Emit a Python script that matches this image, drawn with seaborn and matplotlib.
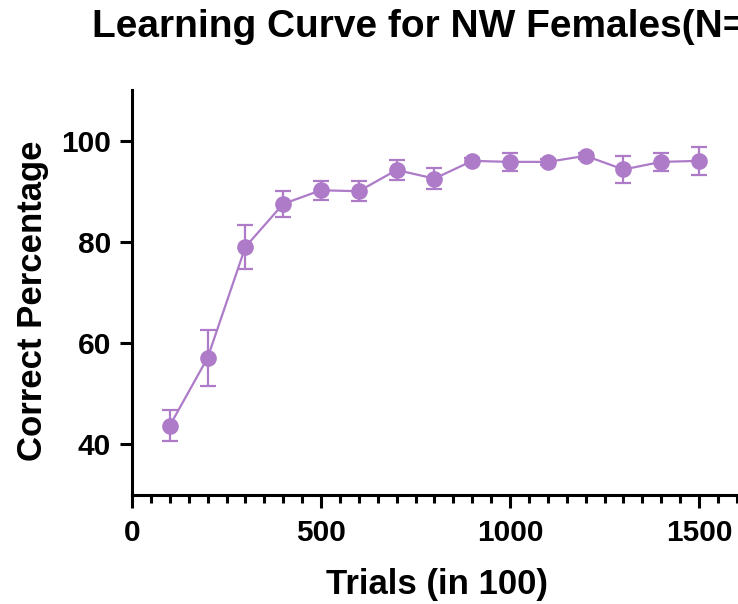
import matplotlib
matplotlib.use("Agg")
import matplotlib.pyplot as plt
import seaborn as sns
import pandas as pd
from matplotlib.ticker import FixedLocator, MultipleLocator

trials = [100, 200, 300, 400, 500, 600, 700, 800, 900, 1000, 1100, 1200, 1300, 1400, 1500]
correct_pct = [43.7, 57.1, 79.0, 87.5, 90.2, 90.0, 94.2, 92.5, 96.0, 95.8, 95.8, 97.0, 94.3, 95.8, 96.0]
sem = [3.0, 5.5, 4.4, 2.5, 1.9, 2.0, 2.0, 2.0, 0.6, 1.8, 0.6, 0.6, 2.6, 1.8, 2.7]
y_ticks = [40, 60, 80, 100]
x_ticks = [0, 500, 1000, 1500]

title = "Learning Curve for NW Females(N="
xlabel = "Trials (in 100)"
ylabel = "Correct Percentage"

color = "#AD7BC8"

sns.set_theme(style="ticks")
plt.rcParams["font.family"] = ["Liberation Sans", "DejaVu Sans"]
plt.rcParams["font.weight"] = "bold"

df = pd.DataFrame({"trials": trials, "pct": correct_pct, "sem": sem})

W, H = 738, 604
fig = plt.figure(figsize=(W / 100, H / 100), dpi=100)
left = 132 / W
bottom = 1 - 495 / H
height = (495 - 90) / H
xmax = 1650
px_per_unit = (699 - 132) / 1500
width = xmax * px_per_unit / W
ax = fig.add_axes([left, bottom, width, height])

ax.errorbar(df["trials"], df["pct"], yerr=df["sem"], fmt="none", ecolor=color,
            elinewidth=1.6, capsize=5.5, capthick=1.6, zorder=2)
sns.lineplot(data=df, x="trials", y="pct", ax=ax, color=color, linewidth=1.6,
             marker="o", markersize=12, markeredgewidth=0, zorder=3)

ax.set_xlim(0, xmax)
ax.set_ylim(30, 110)
ax.xaxis.set_major_locator(FixedLocator(x_ticks))
ax.xaxis.set_minor_locator(MultipleLocator(50))
ax.yaxis.set_major_locator(FixedLocator(y_ticks))

for side in ["top", "right"]:
    ax.spines[side].set_visible(False)
for side in ["left", "bottom"]:
    ax.spines[side].set_linewidth(2.2)
    ax.spines[side].set_color("black")

ax.tick_params(axis="both", which="major", length=9, width=2.2, color="black",
               labelsize=21.5, pad=6, labelcolor="black")
ax.tick_params(axis="x", which="minor", length=5.5, width=2.2, color="black")
ax.tick_params(axis="x", which="major", pad=8)
for lab in ax.get_xticklabels() + ax.get_yticklabels():
    lab.set_fontweight("bold")

axw = width * W
axh = height * H
ax.set_xlabel(xlabel, fontsize=25, fontweight="bold", color="black")
ax.set_ylabel(ylabel, fontsize=25, fontweight="bold", color="black")
ax.xaxis.set_label_coords((437 - 132) / axw, -(568 - 495) / axh)
ax.yaxis.set_label_coords(-(132 - 16) / axw, (495 - 301) / axh)
ax.xaxis.label.set_va("top")
ax.yaxis.label.set_va("top")
ax.grid(False)

fig.text(92 / W, 1 - 37 / H, title, fontsize=28, fontweight="bold",
         ha="left", va="baseline", color="black")

fig.savefig("out.png", dpi=100)
